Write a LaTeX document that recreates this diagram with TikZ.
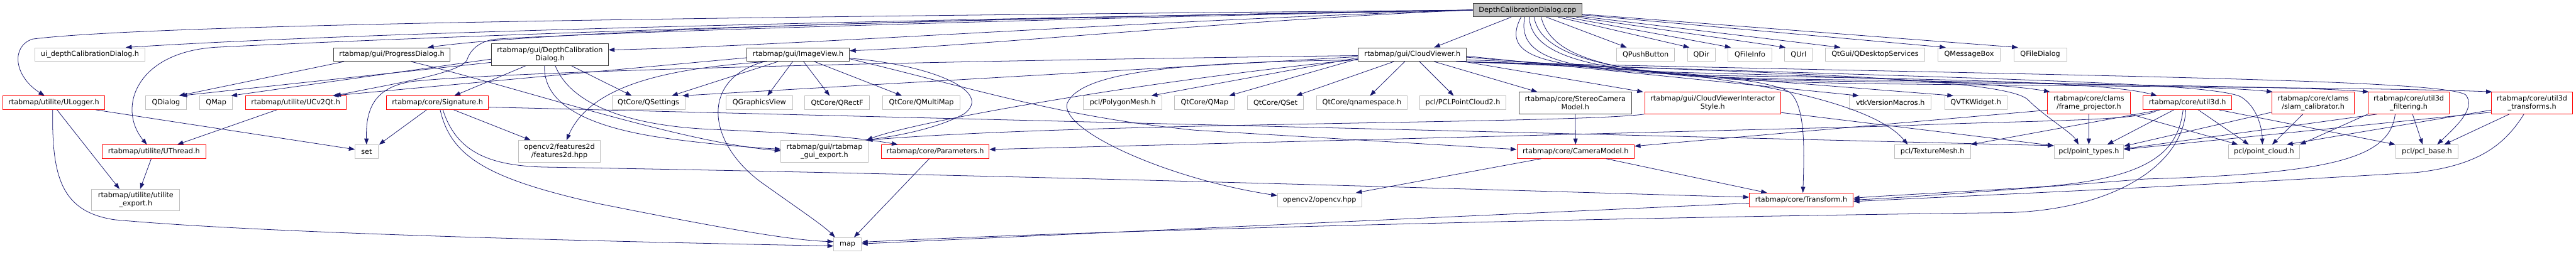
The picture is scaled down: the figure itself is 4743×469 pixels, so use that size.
\documentclass[tikz,border=0pt]{standalone}
\usepackage{fontspec}
\usetikzlibrary{arrows.meta}
\newfontfamily\dgfont{DejaVu Sans}
\definecolor{edgeblue}{HTML}{191970}
\definecolor{boxgray}{HTML}{BFBFBF}
\definecolor{boxred}{HTML}{FF0000}
\definecolor{boxdark}{HTML}{404040}
\tikzset{
  hdr/.style={draw, line width=1.1pt, inner sep=0pt, minimum height=25pt,
    align=center, font=\dgfont\fontsize{13}{15}\selectfont},
  sysinc/.style={hdr, draw=boxgray},
  trunc/.style={hdr, draw=boxred},
  docd/.style={hdr, draw=boxdark},
  srcfile/.style={hdr, draw=boxdark, fill=boxgray},
  inc/.style={draw=edgeblue, line width=0.9pt, -{Triangle[length=11pt,width=8pt]}},
}
\begin{document}
\begin{tikzpicture}[x=1pt, y=-1pt]
\useasboundingbox (0,0) rectangle (4743,469);
\fill[white] (0,0) rectangle (4743,469);
% source file
\node[srcfile, minimum width=201pt] (root) at (2812.5,18.5) {DepthCalibrationDialog.cpp};
% first row
\node[sysinc, minimum width=203pt] (uidepth) at (165.5,100.5) {ui\_depthCalibrationDialog.h};
\node[docd, minimum width=215pt] (progress) at (721.5,100.5) {rtabmap/gui/ProgressDialog.h};
\node[docd, minimum width=215pt, minimum height=40pt] (dcdialog) at (1012.5,101) {rtabmap/gui/DepthCalibration\\Dialog.h};
\node[docd, minimum width=189pt] (imageview) at (1469.5,100.5) {rtabmap/gui/ImageView.h};
\node[docd, minimum width=199pt] (cloudviewer) at (2600.5,100.5) {rtabmap/gui/CloudViewer.h};
\node[sysinc, minimum width=106pt] (qpushbutton) at (3030,100.5) {QPushButton};
\node[sysinc, minimum width=51pt] (qdir) at (3132.5,100.5) {QDir};
\node[sysinc, minimum width=80pt] (qfileinfo) at (3222,100.5) {QFileInfo};
\node[sysinc, minimum width=51pt] (qurl) at (3311.5,100.5) {QUrl};
\node[sysinc, minimum width=183pt] (qdesktop) at (3452.5,100.5) {QtGui/QDesktopServices};
\node[sysinc, minimum width=115pt] (qmessagebox) at (3625.5,100.5) {QMessageBox};
\node[sysinc, minimum width=97pt] (qfiledialog) at (3756.5,100.5) {QFileDialog};
% second row
\node[trunc, minimum width=188pt] (ulogger) at (99,189.5) {rtabmap/utilite/ULogger.h};
\node[sysinc, minimum width=75pt] (qdialog) at (305.5,189.5) {QDialog};
\node[sysinc, minimum width=60pt] (qmap) at (398,189.5) {QMap};
\node[trunc, minimum width=185pt] (ucv2qt) at (544.5,189.5) {rtabmap/utilite/UCv2Qt.h};
\node[trunc, minimum width=187pt] (signature) at (805.5,189.5) {rtabmap/core/Signature.h};
\node[sysinc, minimum width=134pt] (qsettings) at (1194,189.5) {QtCore/QSettings};
\node[sysinc, minimum width=122pt] (qgraphicsview) at (1398,189.5) {QGraphicsView};
\node[sysinc, minimum width=119pt] (qrectf) at (1541.5,189.5) {QtCore/QRectF};
\node[sysinc, minimum width=143pt] (qmultimap) at (1696.5,189.5) {QtCore/QMultiMap};
\node[sysinc, minimum width=144pt] (polygonmesh) at (2067,189.5) {pcl/PolygonMesh.h};
\node[sysinc, minimum width=110pt] (qtqmap) at (2218,189.5) {QtCore/QMap};
\node[sysinc, minimum width=103pt] (qset) at (2348.5,189.5) {QtCore/QSet};
\node[sysinc, minimum width=167pt] (qnamespace) at (2507.5,189.5) {QtCore/qnamespace.h};
\node[sysinc, minimum width=159pt] (pclpc2) at (2693.5,189.5) {pcl/PCLPointCloud2.h};
\node[docd, minimum width=207pt, minimum height=40pt] (stereo) at (2900.5,190) {rtabmap/core/StereoCamera\\Model.h};
\node[trunc, minimum width=251pt, minimum height=40pt] (interactor) at (3153.5,190) {rtabmap/gui/CloudViewerInteractor\\Style.h};
\node[sysinc, minimum width=151pt] (vtkmacros) at (3480.5,189.5) {vtkVersionMacros.h};
\node[sysinc, minimum width=114pt] (qvtk) at (3638,189.5) {QVTKWidget.h};
\node[trunc, minimum width=152pt, minimum height=40pt] (frameproj) at (3846,190) {rtabmap/core/clams\\/frame\_projector.h};
\node[trunc, minimum width=163pt] (util3d) at (4027.5,189.5) {rtabmap/core/util3d.h};
\node[trunc, minimum width=152pt, minimum height=40pt] (slamcal) at (4259,190) {rtabmap/core/clams\\/slam\_calibrator.h};
\node[trunc, minimum width=150pt, minimum height=40pt] (util3dfilt) at (4435,190) {rtabmap/core/util3d\\\_filtering.h};
\node[trunc, minimum width=150pt, minimum height=40pt] (util3dtrans) at (4662,190) {rtabmap/core/util3d\\\_transforms.h};
% third row
\node[trunc, minimum width=191pt] (uthread) at (283.5,279.5) {rtabmap/utilite/UThread.h};
\node[sysinc, minimum width=42pt] (set) at (675,279.5) {set};
\node[sysinc, minimum width=150pt, minimum height=40pt] (features2d) at (1030,279) {opencv2/features2d\\/features2d.hpp};
\node[sysinc, minimum width=160pt, minimum height=40pt] (guiexport) at (1518,279) {rtabmap/gui/rtabmap\\\_gui\_export.h};
\node[trunc, minimum width=198pt] (parameters) at (1722,279.5) {rtabmap/core/Parameters.h};
\node[trunc, minimum width=216pt] (cameramodel) at (2901,279.5) {rtabmap/core/CameraModel.h};
\node[sysinc, minimum width=140pt] (texturemesh) at (3558,279.5) {pcl/TextureMesh.h};
\node[sysinc, minimum width=128pt] (pointtypes) at (3846,279.5) {pcl/point\_types.h};
\node[sysinc, minimum width=131pt] (pointcloud) at (4168.5,279.5) {pcl/point\_cloud.h};
\node[sysinc, minimum width=115pt] (pclbase) at (4468.5,279.5) {pcl/pcl\_base.h};
% fourth and fifth rows
\node[sysinc, minimum width=162pt, minimum height=39pt] (utilexport) at (250,368.5) {rtabmap/utilite/utilite\\\_export.h};
\node[sysinc, minimum width=155pt] (opencv) at (2429.5,368.5) {opencv2/opencv.hpp};
\node[trunc, minimum width=191pt] (transform) at (3316.5,368.5) {rtabmap/core/Transform.h};
\node[sysinc, minimum width=51pt] (map) at (1560.5,450.5) {map};

% source file, towards the left
\draw[inc] (root.west) .. controls (1500,30) and (300,42) .. (60,72) .. controls (20,85) and (25,140) .. ([xshift=-17pt]ulogger.north);
\draw[inc] (root.west) .. controls (1600,38) and (700,58) .. ([xshift=66pt]uidepth.north);
\draw[inc] (root.west) .. controls (1600,36) and (700,72) .. (400,87) .. controls (250,95) and (215,200) .. ([xshift=-13pt]uthread.north);
\draw[inc] (root.west) .. controls (1900,32) and (1050,52) .. ([xshift=66pt]progress.north);
\draw[inc] (root.west) .. controls (2100,38) and (1450,85) .. ([yshift=9pt]dcdialog.east);
\draw[inc] (root.west) .. controls (1900,35) and (1100,60) .. (915,72) .. controls (880,75) and (865,95) .. (860,110) .. controls (850,135) and (720,155) .. ([xshift=72pt]ucv2qt.north);
\draw[inc] (root.west) .. controls (2300,35) and (1800,85) .. ([yshift=7pt]imageview.east);
\draw[inc] ([xshift=-30pt]root.south) -- ([xshift=40pt]cloudviewer.north);
% source file, towards the right
\draw[inc] (root) -- ([xshift=-35pt]qpushbutton.north);
\draw[inc] (root) -- ([xshift=-22pt]qdir.north);
\draw[inc] (root) -- ([xshift=-35pt]qfileinfo.north);
\draw[inc] (root) -- ([xshift=-24pt]qurl.north);
\draw[inc] (root) -- ([xshift=-64pt]qdesktop.north);
\draw[inc] (root) -- ([xshift=-43pt]qmessagebox.north);
\draw[inc] (root) -- ([xshift=-41pt]qfiledialog.north);
\draw[inc] ([xshift=-12pt]root.south) .. controls (2760,110) and (2850,128) .. (3150,135) .. controls (3450,142) and (3700,155) .. ([xshift=5pt]frameproj.north west);
\draw[inc] ([xshift=-5pt]root.south) .. controls (2790,115) and (2900,135) .. (3200,140) .. controls (3600,146) and (3880,152) .. ([xshift=26pt]util3d.north west);
\draw[inc] ([xshift=3pt]root.south) .. controls (2820,110) and (2950,140) .. (3300,146) .. controls (3800,152) and (4100,160) .. ([xshift=2pt]slamcal.north west);
\draw[inc] ([xshift=12pt]root.south) .. controls (2840,115) and (3000,145) .. (3400,150) .. controls (3900,156) and (4250,160) .. ([xshift=2pt]util3dfilt.north west);
\draw[inc] ([xshift=25pt]root.south) .. controls (2860,120) and (3000,150) .. (3500,155) .. controls (4000,160) and (4450,163) .. ([xshift=2pt]util3dtrans.north west);

% ProgressDialog.h and DepthCalibrationDialog.h
\draw[inc] ([xshift=-88pt]progress.south) -- ([xshift=24pt]qdialog.north);
\draw[inc] ([xshift=35pt]progress.south) .. controls (950,160) and (1250,262) .. ([yshift=1pt]guiexport.west);
\draw[inc] ([yshift=-14pt]dcdialog.west) -- ([xshift=28pt]qdialog.north);
\draw[inc] ([yshift=-8pt]dcdialog.west) -- ([xshift=-3pt]qmap.north east);
\draw[inc] ([xshift=-45pt]dcdialog.south) -- ([xshift=31pt]signature.north);
\draw[inc] ([xshift=40pt]dcdialog.south) -- ([xshift=-31pt]qsettings.north);
\draw[inc] ([xshift=-10pt]dcdialog.south) .. controls (1000,200) and (1100,240) .. (1250,258) .. controls (1330,268) and (1400,273) .. ([yshift=4pt]guiexport.west);
\draw[inc] ([xshift=10pt]dcdialog.south) .. controls (1050,190) and (1150,230) .. (1300,238) .. controls (1450,245) and (1560,250) .. ([xshift=-69pt]parameters.north);

% ImageView.h
\draw[inc] ([yshift=-6pt]imageview.west) -- ([xshift=68pt]ucv2qt.north);
\draw[inc] ([xshift=-37pt]imageview.south) -- ([xshift=43pt]qsettings.north);
\draw[inc] ([xshift=-10pt]imageview.south) -- ([xshift=15pt]qgraphicsview.north);
\draw[inc] ([xshift=10pt]imageview.south) -- ([xshift=-14pt]qrectf.north);
\draw[inc] ([xshift=30pt]imageview.south) -- ([xshift=-36pt]qmultimap.north);
\draw[inc] ([xshift=-57pt]imageview.south) .. controls (1250,125) and (1090,150) .. ([xshift=13pt]features2d.north);
\draw[inc] ([xshift=-62pt]imageview.south) .. controls (1290,145) and (1300,260) .. (1400,335) .. controls (1470,385) and (1515,415) .. ([xshift=3pt]map.north west);
\draw[inc] ([yshift=-7pt]imageview.east) .. controls (1720,120) and (1830,170) .. (1775,210) .. controls (1720,240) and (1640,252) .. ([xshift=-5pt]guiexport.north east);
\draw[inc] ([yshift=-8pt]imageview.east) .. controls (1800,165) and (1950,215) .. (2200,240) -- ([yshift=4pt]cameramodel.west);

% CloudViewer.h
\draw[inc] ([yshift=-4pt]cloudviewer.west) -- ([xshift=-5pt]qsettings.north east);
\draw[inc] ([yshift=-6pt]cloudviewer.west) -- ([xshift=53pt]polygonmesh.north);
\draw[inc] ([yshift=-8pt]cloudviewer.west) -- ([xshift=45pt]qtqmap.north);
\draw[inc] ([xshift=-34pt]cloudviewer.south) -- ([xshift=38pt]qset.north);
\draw[inc] ([xshift=-14pt]cloudviewer.south) -- ([xshift=15pt]qnamespace.north);
\draw[inc] ([xshift=13pt]cloudviewer.south) -- ([xshift=-17pt]pclpc2.north);
\draw[inc] ([xshift=40pt]cloudviewer.south) -- ([xshift=-70pt]stereo.north);
\draw[inc] ([xshift=-5pt]cloudviewer.south east) -- ([xshift=-2pt]interactor.north west);
\draw[inc] ([yshift=-3pt]cloudviewer.east) -- ([xshift=18pt]vtkmacros.north west);
\draw[inc] ([yshift=-5pt]cloudviewer.east) -- ([xshift=16pt]qvtk.north west);
\draw[inc] ([yshift=-10pt]cloudviewer.east) .. controls (3200,125) and (3450,190) .. ([xshift=25pt]texturemesh.north west);
\draw[inc] ([yshift=-2pt]cloudviewer.west) .. controls (1500,115) and (900,135) .. (760,150) .. controls (690,160) and (673,200) .. (set.north);
\draw[inc] ([yshift=-9pt]cloudviewer.west) .. controls (2100,150) and (1680,225) .. ([xshift=-3pt]guiexport.north east);
\draw[inc] ([yshift=-10pt]cloudviewer.west) .. controls (2150,115) and (1990,135) .. (1965,190) .. controls (1950,240) and (2150,330) .. ([yshift=8pt]opencv.west);
\draw[inc] ([xshift=-20pt]cloudviewer.south east) .. controls (3000,125) and (3250,140) .. (3295,170) .. controls (3325,195) and (3322,280) .. ([xshift=3pt]transform.north);
\draw[inc] ([xshift=-5pt]cloudviewer.south east) .. controls (3300,135) and (3700,145) .. (3735,185) .. controls (3765,215) and (3815,245) .. ([xshift=-19pt]pointtypes.north);
\draw[inc] ([xshift=-10pt]cloudviewer.south east) .. controls (3600,145) and (4060,150) .. (4125,178) .. controls (4155,195) and (4165,235) .. ([xshift=-3pt]pointcloud.north);
\draw[inc] ([xshift=-15pt]cloudviewer.south east) .. controls (3800,140) and (4500,145) .. (4540,175) .. controls (4560,200) and (4520,235) .. ([xshift=19pt]pclbase.north);

% utilite headers
\draw[inc] ([xshift=-17pt]ulogger.south east) -- ([yshift=4pt]set.west);
\draw[inc] ([xshift=6pt]ulogger.south) -- ([xshift=-30pt]utilexport.north);
\draw[inc] ([xshift=-2pt]ulogger.south) .. controls (95,330) and (115,390) .. (210,405) .. controls (500,432) and (1200,447) .. ([yshift=-3pt]map.west);
\draw[inc] ([xshift=-5pt]uthread.south) -- ([xshift=8pt]utilexport.north);
\draw[inc] ([xshift=-35pt]ucv2qt.south) -- ([xshift=43pt]uthread.north);

% Signature.h
\draw[inc] ([xshift=-20pt]signature.south) -- ([xshift=23pt]set.north);
\draw[inc] ([xshift=30pt]signature.south) -- ([xshift=-53pt]features2d.north);
\draw[inc] ([xshift=5pt]signature.south) .. controls (830,290) and (900,330) .. (1100,375) .. controls (1300,415) and (1450,443) .. ([yshift=5pt]map.west);
\draw[inc] ([xshift=10pt]signature.south) .. controls (840,280) and (900,305) .. (1000,308) .. controls (2000,325) and (3000,358) .. ([yshift=5pt]transform.west);
\draw[inc] ([yshift=-8pt]signature.east) -- ([yshift=11pt]pointtypes.west);

% camera model, parameters, transform
\draw[inc] (stereo) -- (cameramodel);
\draw[inc] ([xshift=-63pt]cameramodel.south) -- ([xshift=67pt]opencv.north);
\draw[inc] ([xshift=56pt]cameramodel.south) -- ([xshift=-63pt]transform.north);
\draw[inc] ([yshift=-6pt]transform.west) -- ([yshift=1pt]map.east);
\draw[inc] ([xshift=-11pt]parameters.south) -- ([xshift=12pt]map.north);
\draw[inc] (interactor.south west) .. controls (2900,228) and (2000,225) .. ([xshift=-3pt]guiexport.north east);
\draw[inc] ([yshift=3pt]interactor.south east) -- ([yshift=11pt]pointtypes.west);

% clams and util3d headers
\draw[inc] (frameproj) -- (pointtypes);
\draw[inc] (frameproj.south east) -- ([xshift=-48pt]pointcloud.north);
\draw[inc] ([yshift=-13pt]frameproj.west) -- ([yshift=10pt]cameramodel.east);
\draw[inc] ([xshift=-25pt]util3d.south) -- ([xshift=34pt]pointtypes.north);
\draw[inc] ([xshift=-50pt]util3d.south) -- (texturemesh.north east);
\draw[inc] ([xshift=20pt]util3d.south) -- ([xshift=-28pt]pointcloud.north);
\draw[inc] ([xshift=-24pt]util3d.south east) -- (pclbase.north west);
\draw[inc] ([xshift=-8pt]util3d.south) .. controls (4010,280) and (3960,330) .. (3750,345) .. controls (3550,357) and (3450,362) .. ([yshift=3pt]transform.east);
\draw[inc] ([xshift=-3pt]util3d.south) .. controls (4020,300) and (3900,385) .. (3700,392) .. controls (3000,400) and (2000,425) .. ([yshift=4pt]map.east);
\draw[inc] ([xshift=-55pt]util3d.south) .. controls (3950,225) and (3700,222) .. (3500,232) -- ([yshift=4pt]parameters.east);
\draw[inc] ([xshift=-19pt]slamcal.south) -- ([xshift=15pt]pointcloud.north);
\draw[inc] ([yshift=-17pt]slamcal.west) -- ([yshift=10pt]pointtypes.east);
\draw[inc] ([xshift=7pt]util3dfilt.south) -- ([xshift=-8pt]pclbase.north);
\draw[inc] (util3dfilt.south west) -- (pointcloud.north east);
\draw[inc] ([xshift=17pt]util3dfilt.south west) -- ([yshift=5pt]pointtypes.east);
\draw[inc] ([xshift=-25pt]util3dfilt.south) .. controls (4400,290) and (4300,320) .. (3950,330) .. controls (3700,350) and (3500,365) .. (transform.east);
\draw[inc] ([xshift=-42pt]util3dtrans.south) -- ([xshift=32pt]pclbase.north);
\draw[inc] ([yshift=-13pt]util3dtrans.west) -- ([xshift=42pt]pointcloud.north);
\draw[inc] ([yshift=-17pt]util3dtrans.west) -- ([yshift=4pt]pointtypes.east);
\draw[inc] ([xshift=-15pt]util3dtrans.south) .. controls (4610,270) and (4560,305) .. (4450,318) .. controls (4000,345) and (3600,362) .. ([yshift=-3pt]transform.east);
\end{tikzpicture}
\end{document}
